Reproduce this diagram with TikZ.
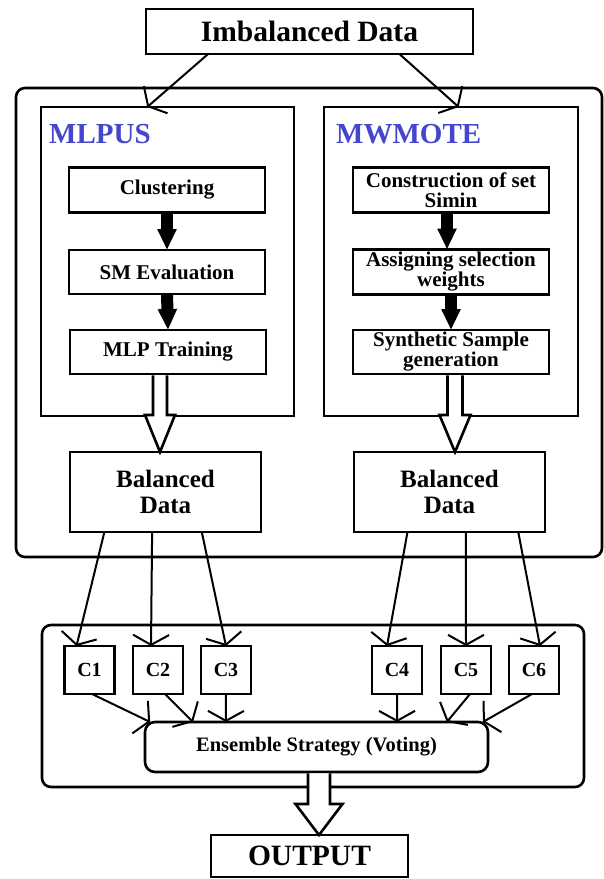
\documentclass[tikz,border=0pt]{standalone}
\usepackage{fontspec}
\setmainfont{Liberation Serif}
\usetikzlibrary{arrows.meta,calc}
\definecolor{mlblue}{RGB}{68,70,206}
\tikzset{
  box/.style={draw,line width=2.6pt,inner sep=0pt,outer sep=0pt,align=center,
    font=\bfseries\fontsize{21}{20}\selectfont},
  bigbox/.style={box,font=\bfseries\fontsize{29.5}{30}\selectfont},
  balbox/.style={box,minimum width=191pt,minimum height=80pt,
    font=\bfseries\fontsize{25}{26}\selectfont},
  stepbox/.style={box,minimum width=196pt,minimum height=45pt},
  cbox/.style={box,minimum width=50pt,minimum height=48pt,
    font=\bfseries\fontsize{20}{20}\selectfont},
  panel/.style={draw,line width=2.6pt,inner sep=0pt,outer sep=0pt},
  method/.style={text=mlblue,inner sep=0pt,anchor=base west,
    font=\bfseries\fontsize{29}{30}\selectfont},
  fat/.style={line width=12pt,-{Triangle[length=21pt,width=18pt]}},
  link/.style={line width=2pt,-{Straight Barb[length=10pt,width=36pt]}},
  hollow/.style={draw,fill=white,line width=2.6pt},
}
\newcommand\hollowarrow[5]{%
  \draw[hollow] let \p1=(#1), \p2=(#2) in
    (\x1-#3,\y1-1.3pt) -- (\x1-#3,\y2+#5) -- (\x1-#4,\y2+#5) -- (\x1,\y2)
    -- (\x1+#4,\y2+#5) -- (\x1+#3,\y2+#5) -- (\x1+#3,\y1-1.3pt);
}
\begin{document}
\begin{tikzpicture}[x=1pt,y=-1pt]
  \useasboundingbox (0,0) rectangle (603,879);
  % upper part
  \node[bigbox,minimum width=327pt,minimum height=45pt] (imb) at (309.5,31.5) {Imbalanced Data};
  \draw[panel,rounded corners=9pt] (16,88) rectangle (602,557);
  \node[panel,minimum width=253pt,minimum height=309pt] (mlpus) at (167.5,261.5) {};
  \node[panel,minimum width=254pt,minimum height=309pt] (mwmote) at (451,261.5) {};
  \node[method] (mlpuslbl) at (49,143) {MLPUS};
  \node[method] (mwmotelbl) at (336,143) {MWMOTE};

  \node[stepbox] (clus) at (167,190) {Clustering};
  \node[stepbox,minimum height=44pt] (smev) at (167,272) {SM Evaluation};
  \node[stepbox,minimum height=44pt] (mlpt) at (168,352) {MLP Training};
  \node[stepbox] (cons) at (451,190) {Construction of set\\Simin};
  \node[stepbox] (assg) at (451,272) {Assigning selection\\weights};
  \node[stepbox,minimum height=44pt] (synt) at (451,352) {Synthetic Sample\\generation};

  \node[balbox] (bal1) at (165.5,492) {Balanced\\Data};
  \node[balbox] (bal2) at (449.5,492) {Balanced\\Data};

  \draw[link] ($(imb.south west)!0.19!(imb.south east)$) -- ($(mlpus.north west)!0.42!(mlpus.north east)$);
  \draw[link] ($(imb.south west)!0.775!(imb.south east)$) -- ($(mwmote.north west)!0.53!(mwmote.north east)$);

  \draw[fat] (clus.south) -- (smev.north);
  \draw[fat] (smev.south) -- (mlpt.north);
  \draw[fat] ($(cons.south)+(-4,0)$) -- ($(assg.north)+(-4,0)$);
  \draw[fat] (assg.south) -- (synt.north);

  \hollowarrow{$(mlpt.south)+(-8,0)$}{bal1.north}{7pt}{15pt}{37pt}
  \hollowarrow{$(synt.south)+(4,0)$}{bal2.north}{7.5pt}{15.5pt}{37pt}

  % lower part
  \draw[panel,rounded corners=9pt] (42,625) rectangle (584,787);
  \foreach \n/\x in {1/89.5,2/158,3/226,4/397,5/466,6/534}
    \node[cbox] (c\n) at (\x,670) {C\n};
  \node[box,rounded corners=10pt,minimum width=343pt,minimum height=50pt,
    font=\bfseries\fontsize{20.5}{20}\selectfont] (ens) at (316.5,747) {Ensemble Strategy (Voting)};
  \node[bigbox,minimum width=197pt,minimum height=42pt] (out) at (309.5,856) {OUTPUT};

  \draw[link] ($(bal1.south west)!0.18!(bal1.south east)$) -- ($(c1.north)+(-13,0)$);
  \draw[link] ($(bal1.south west)!0.43!(bal1.south east)$) -- ($(c2.north)+(-7,0)$);
  \draw[link] ($(bal1.south west)!0.69!(bal1.south east)$) -- (c3.north);
  \draw[link] ($(bal2.south west)!0.28!(bal2.south east)$) -- ($(c4.north)+(-10,0)$);
  \draw[link] ($(bal2.south west)!0.586!(bal2.south east)$) -- (c5.north);
  \draw[link] ($(bal2.south west)!0.86!(bal2.south east)$) -- ($(c6.north)+(6,0)$);

  \draw[link] ($(c1.south)+(2.5,0)$) -- ($(ens.north west)!0.015!(ens.north east)$);
  \draw[link] ($(c2.south)+(7,0)$) -- ($(ens.north west)!0.14!(ens.north east)$);
  \draw[link] (c3.south) -- ($(ens.north west)!0.236!(ens.north east)$);
  \draw[link] (c4.south) -- ($(ens.north west)!0.735!(ens.north east)$);
  \draw[link] ($(c5.south)+(4,0)$) -- ($(ens.north west)!0.88!(ens.north east)$);
  \draw[link] ($(c6.south)+(-2,0)$) -- ($(ens.north west)!0.985!(ens.north east)$);

  \hollowarrow{$(ens.south)+(2.5,0)$}{out.north}{11pt}{23.5pt}{31pt}
\end{tikzpicture}
\end{document}
